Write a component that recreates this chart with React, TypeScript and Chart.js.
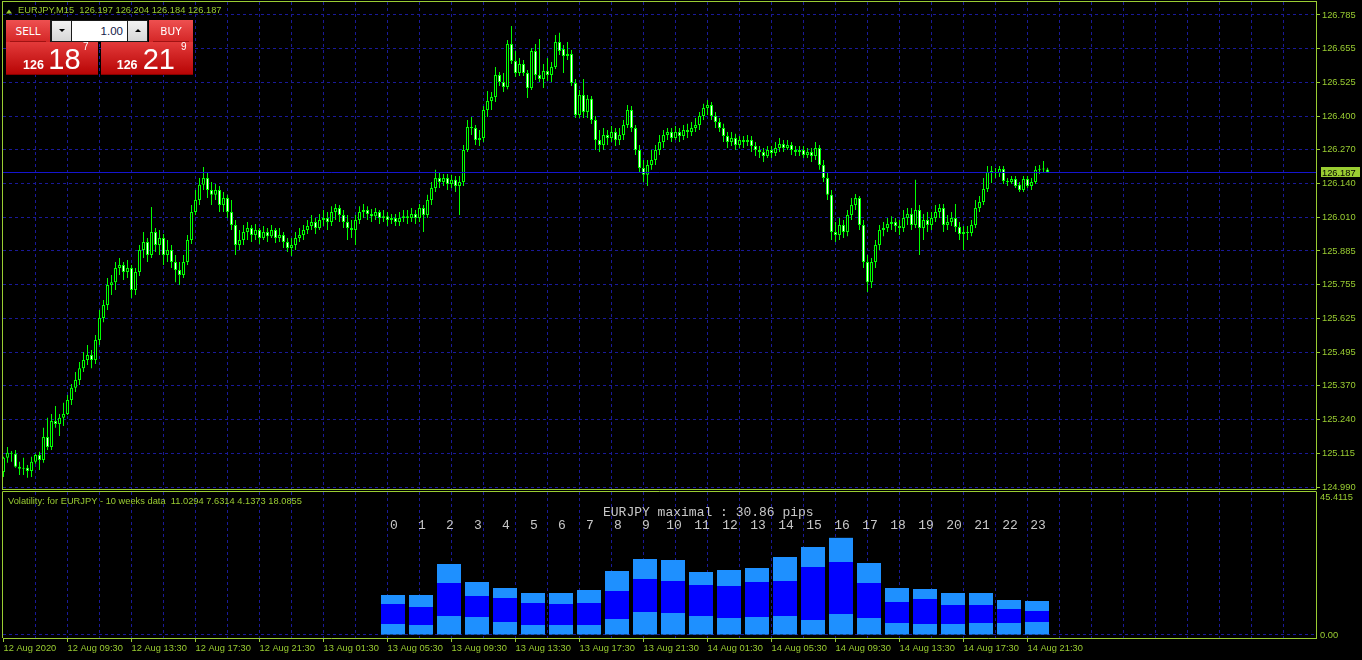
import React, { useEffect, useRef } from 'react';
import { Chart, registerables } from 'chart.js';

Chart.register(...registerables);

// ---------------- data ----------------
const symbol = 'EURJPY';
const timeframe = 'M15';

const opens = [
  125.047, 125.101, 125.120, 125.116, 125.067, 125.059, 125.063, 125.051, 125.086, 125.112,
  125.093, 125.180, 125.142, 125.241, 125.230, 125.253, 125.268, 125.321, 125.367, 125.397,
  125.442, 125.473, 125.492, 125.473, 125.549, 125.633, 125.682, 125.758, 125.769, 125.823,
  125.834, 125.808, 125.823, 125.739, 125.808, 125.891, 125.922, 125.872, 125.960, 125.910,
  125.937, 125.872, 125.891, 125.846, 125.815, 125.796, 125.846, 125.929, 126.036, 126.081,
  126.139, 126.165, 126.119, 126.101, 126.119, 126.062, 126.089, 126.036, 125.986, 125.910,
  125.929, 125.960, 125.975, 125.948, 125.967, 125.937, 125.960, 125.944, 125.967, 125.937,
  125.948, 125.922, 125.899, 125.910, 125.937, 125.948, 125.967, 125.983, 125.998, 125.975,
  126.005, 126.013, 125.998, 126.036, 126.051, 126.024, 125.998, 125.975, 125.967, 126.005,
  126.036, 126.043, 126.028, 126.020, 126.036, 126.013, 126.020, 126.005, 126.013, 125.998,
  126.013, 126.020, 126.013, 126.028, 126.013, 126.051, 126.024, 126.081, 126.127, 126.165,
  126.150, 126.165, 126.142, 126.158, 126.135, 126.150, 126.272, 126.359, 126.355, 126.310,
  126.317, 126.424, 126.458, 126.473, 126.557, 126.530, 126.511, 126.675, 126.610, 126.564,
  126.599, 126.564, 126.507, 126.648, 126.557, 126.542, 126.572, 126.557, 126.587, 126.682,
  126.656, 126.629, 126.637, 126.526, 126.405, 126.481, 126.416, 126.466, 126.386, 126.310,
  126.291, 126.329, 126.317, 126.340, 126.310, 126.329, 126.367, 126.424, 126.355, 126.272,
  126.203, 126.177, 126.215, 126.234, 126.272, 126.302, 126.329, 126.340, 126.317, 126.340,
  126.325, 126.348, 126.340, 126.355, 126.367, 126.401, 126.431, 126.443, 126.401, 126.378,
  126.355, 126.325, 126.302, 126.317, 126.291, 126.310, 126.302, 126.310, 126.287, 126.272,
  126.264, 126.249, 126.272, 126.260, 126.279, 126.294, 126.279, 126.291, 126.272, 126.264,
  126.272, 126.253, 126.264, 126.249, 126.279, 126.215, 126.165, 126.101, 125.960, 125.948,
  125.986, 125.960, 126.024, 126.062, 126.089, 125.986, 125.846, 125.769, 125.846, 125.910,
  125.967, 125.975, 125.990, 125.998, 125.983, 125.975, 126.013, 126.028, 125.986, 126.043,
  125.975, 126.005, 125.986, 126.013, 126.036, 126.051, 125.986, 125.998, 126.013, 125.979,
  125.952, 125.960, 125.956, 125.986, 126.051, 126.074, 126.123, 126.188, 126.188, 126.184,
  126.199, 126.154, 126.150, 126.161, 126.139, 126.119, 126.161, 126.135, 126.150, 126.196,
  126.199, 126.197,
];

const highs = [
  125.105, 125.142, 125.127, 125.131, 125.086, 125.101, 125.074, 125.105, 125.116, 125.124,
  125.215, 125.253, 125.268, 125.298, 125.268, 125.310, 125.340, 125.382, 125.427, 125.465,
  125.503, 125.530, 125.511, 125.568, 125.663, 125.701, 125.785, 125.796, 125.846, 125.861,
  125.846, 125.853, 125.834, 125.823, 125.910, 125.960, 125.937, 126.055, 125.975, 125.967,
  125.952, 125.929, 125.910, 125.872, 125.846, 125.872, 125.948, 126.062, 126.119, 126.165,
  126.207, 126.188, 126.150, 126.142, 126.135, 126.112, 126.101, 126.081, 126.005, 125.967,
  125.986, 125.998, 125.986, 125.990, 125.975, 125.983, 125.975, 125.986, 125.975, 125.975,
  125.960, 125.937, 125.937, 125.960, 125.975, 125.986, 126.005, 126.024, 126.013, 126.028,
  126.043, 126.036, 126.058, 126.066, 126.062, 126.043, 126.024, 126.005, 126.024, 126.058,
  126.066, 126.058, 126.047, 126.051, 126.043, 126.043, 126.036, 126.028, 126.028, 126.036,
  126.043, 126.043, 126.051, 126.043, 126.066, 126.062, 126.101, 126.150, 126.196, 126.188,
  126.180, 126.180, 126.177, 126.173, 126.173, 126.291, 126.386, 126.397, 126.367, 126.348,
  126.439, 126.496, 126.492, 126.587, 126.568, 126.564, 126.690, 126.743, 126.648, 126.621,
  126.614, 126.576, 126.659, 126.675, 126.694, 126.599, 126.621, 126.606, 126.709, 126.717,
  126.671, 126.682, 126.652, 126.542, 126.500, 126.542, 126.481, 126.477, 126.401, 126.348,
  126.355, 126.348, 126.363, 126.355, 126.355, 126.386, 126.443, 126.439, 126.367, 126.291,
  126.234, 126.234, 126.272, 126.291, 126.329, 126.348, 126.355, 126.355, 126.363, 126.355,
  126.367, 126.371, 126.378, 126.393, 126.416, 126.447, 126.462, 126.454, 126.416, 126.393,
  126.371, 126.340, 126.340, 126.333, 126.325, 126.325, 126.329, 126.325, 126.302, 126.287,
  126.279, 126.287, 126.287, 126.302, 126.317, 126.310, 126.310, 126.302, 126.287, 126.287,
  126.287, 126.279, 126.279, 126.302, 126.291, 126.234, 126.188, 126.119, 125.998, 126.013,
  126.005, 126.043, 126.089, 126.104, 126.097, 126.005, 125.872, 125.861, 125.929, 125.986,
  125.998, 126.013, 126.020, 126.013, 126.005, 126.043, 126.051, 126.051, 126.158, 126.062,
  126.028, 126.036, 126.036, 126.062, 126.066, 126.066, 126.024, 126.036, 126.066, 125.998,
  125.983, 125.983, 126.005, 126.081, 126.097, 126.165, 126.211, 126.211, 126.203, 126.211,
  126.211, 126.165, 126.173, 126.173, 126.150, 126.173, 126.173, 126.165, 126.211, 126.215,
  126.230, 126.204,
];

const lows = [
  125.028, 125.082, 125.086, 125.063, 125.036, 125.036, 125.025, 125.028, 125.078, 125.055,
  125.082, 125.131, 125.131, 125.215, 125.184, 125.222, 125.264, 125.302, 125.351, 125.378,
  125.427, 125.454, 125.442, 125.458, 125.530, 125.617, 125.663, 125.720, 125.739, 125.796,
  125.777, 125.785, 125.709, 125.720, 125.792, 125.861, 125.846, 125.861, 125.884, 125.872,
  125.834, 125.846, 125.823, 125.769, 125.758, 125.785, 125.834, 125.914, 126.024, 126.062,
  126.119, 126.089, 126.062, 126.081, 126.036, 126.036, 126.013, 125.967, 125.872, 125.891,
  125.910, 125.929, 125.922, 125.929, 125.914, 125.929, 125.922, 125.937, 125.918, 125.922,
  125.899, 125.884, 125.868, 125.891, 125.922, 125.929, 125.952, 125.967, 125.952, 125.967,
  125.983, 125.967, 125.983, 126.005, 125.998, 125.975, 125.929, 125.937, 125.910, 125.990,
  126.013, 126.005, 125.998, 126.005, 125.990, 125.998, 125.983, 125.990, 125.983, 125.983,
  125.998, 125.990, 125.998, 125.990, 125.998, 125.960, 126.013, 126.062, 126.112, 126.127,
  126.135, 126.119, 126.127, 126.112, 126.024, 126.135, 126.264, 126.329, 126.291, 126.287,
  126.302, 126.397, 126.424, 126.454, 126.515, 126.492, 126.503, 126.599, 126.549, 126.553,
  126.553, 126.469, 126.500, 126.538, 126.530, 126.507, 126.534, 126.530, 126.580, 126.633,
  126.564, 126.614, 126.515, 126.393, 126.393, 126.393, 126.393, 126.370, 126.272, 126.264,
  126.272, 126.291, 126.302, 126.287, 126.291, 126.310, 126.355, 126.340, 126.253, 126.188,
  126.150, 126.135, 126.196, 126.215, 126.253, 126.279, 126.310, 126.302, 126.310, 126.302,
  126.310, 126.317, 126.325, 126.340, 126.348, 126.386, 126.405, 126.386, 126.355, 126.340,
  126.302, 126.279, 126.287, 126.272, 126.279, 126.279, 126.287, 126.264, 126.249, 126.241,
  126.226, 126.241, 126.241, 126.249, 126.264, 126.264, 126.272, 126.253, 126.249, 126.249,
  126.241, 126.241, 126.226, 126.234, 126.196, 126.150, 126.081, 125.929, 125.922, 125.929,
  125.937, 125.944, 126.005, 126.043, 125.967, 125.823, 125.732, 125.747, 125.823, 125.891,
  125.944, 125.960, 125.967, 125.960, 125.948, 125.960, 125.986, 125.967, 125.975, 125.872,
  125.929, 125.960, 125.967, 125.998, 126.013, 125.960, 125.967, 125.983, 125.960, 125.929,
  125.891, 125.929, 125.944, 125.975, 126.036, 126.062, 126.112, 126.146, 126.165, 126.169,
  126.142, 126.135, 126.142, 126.127, 126.112, 126.112, 126.127, 126.119, 126.142, 126.180,
  126.188, 126.184,
];

const closes = [
  125.101, 125.120, 125.116, 125.067, 125.059, 125.063, 125.051, 125.086, 125.112, 125.093,
  125.180, 125.142, 125.241, 125.230, 125.253, 125.268, 125.321, 125.367, 125.397, 125.442,
  125.473, 125.492, 125.473, 125.549, 125.633, 125.682, 125.758, 125.769, 125.823, 125.834,
  125.808, 125.823, 125.739, 125.808, 125.891, 125.922, 125.872, 125.960, 125.910, 125.937,
  125.872, 125.891, 125.846, 125.815, 125.796, 125.846, 125.929, 126.036, 126.081, 126.139,
  126.165, 126.119, 126.101, 126.119, 126.062, 126.089, 126.036, 125.986, 125.910, 125.929,
  125.960, 125.975, 125.948, 125.967, 125.937, 125.960, 125.944, 125.967, 125.937, 125.948,
  125.922, 125.899, 125.910, 125.937, 125.948, 125.967, 125.983, 125.998, 125.975, 126.005,
  126.013, 125.998, 126.036, 126.051, 126.024, 125.998, 125.975, 125.967, 126.005, 126.036,
  126.043, 126.028, 126.020, 126.036, 126.013, 126.020, 126.005, 126.013, 125.998, 126.013,
  126.020, 126.013, 126.028, 126.013, 126.051, 126.024, 126.081, 126.127, 126.165, 126.150,
  126.165, 126.142, 126.158, 126.135, 126.150, 126.272, 126.359, 126.355, 126.310, 126.317,
  126.424, 126.458, 126.473, 126.557, 126.530, 126.511, 126.675, 126.610, 126.564, 126.599,
  126.564, 126.507, 126.648, 126.557, 126.542, 126.572, 126.557, 126.587, 126.682, 126.648,
  126.629, 126.637, 126.526, 126.405, 126.481, 126.416, 126.466, 126.386, 126.310, 126.291,
  126.329, 126.317, 126.340, 126.310, 126.329, 126.367, 126.424, 126.355, 126.272, 126.203,
  126.177, 126.215, 126.234, 126.272, 126.302, 126.329, 126.340, 126.317, 126.340, 126.325,
  126.348, 126.340, 126.355, 126.367, 126.401, 126.431, 126.443, 126.401, 126.378, 126.355,
  126.325, 126.302, 126.317, 126.291, 126.310, 126.302, 126.310, 126.287, 126.272, 126.264,
  126.249, 126.272, 126.260, 126.279, 126.294, 126.279, 126.291, 126.272, 126.264, 126.272,
  126.253, 126.264, 126.249, 126.279, 126.215, 126.165, 126.101, 125.960, 125.948, 125.986,
  125.960, 126.024, 126.062, 126.089, 125.986, 125.846, 125.769, 125.846, 125.910, 125.967,
  125.975, 125.990, 125.998, 125.983, 125.975, 126.013, 126.028, 125.986, 126.043, 125.975,
  126.005, 125.986, 126.013, 126.036, 126.051, 125.986, 125.998, 126.013, 125.979, 125.952,
  125.960, 125.956, 125.986, 126.051, 126.074, 126.123, 126.188, 126.188, 126.184, 126.199,
  126.154, 126.150, 126.161, 126.135, 126.119, 126.161, 126.135, 126.150, 126.196, 126.199,
  126.197, 126.187,
];

const bidPrice = 126.187;
const askPrice = 126.219;
const lotSize = '1.00';

// one label every 16 bars (4 hours of M15)
const timeLabels = [
  '12 Aug 2020', '12 Aug 09:30', '12 Aug 13:30', '12 Aug 17:30', '12 Aug 21:30',
  '13 Aug 01:30', '13 Aug 05:30', '13 Aug 09:30', '13 Aug 13:30', '13 Aug 17:30',
  '13 Aug 21:30', '14 Aug 01:30', '14 Aug 05:30', '14 Aug 09:30', '14 Aug 13:30',
  '14 Aug 17:30', '14 Aug 21:30',
];

const priceTickLabels = [
  '124.990', '125.115', '125.240', '125.370', '125.495', '125.625', '125.755', '125.885',
  '126.010', '126.140', '126.270', '126.400', '126.525', '126.655', '126.785',
];

const hourLabels = ['0', '1', '2', '3', '4', '5', '6', '7', '8', '9', '10', '11',
  '12', '13', '14', '15', '16', '17', '18', '19', '20', '21', '22', '23'];
const hourLow = [3.49, 3.18, 6.03, 5.72, 4.13, 3.18, 3.18, 3.18, 5.08, 7.30, 6.99, 6.03,
  5.40, 5.72, 6.03, 4.76, 6.67, 5.40, 3.81, 3.49, 3.49, 3.81, 3.81, 4.13];
const hourMid = [9.84, 8.89, 16.51, 12.38, 11.75, 10.16, 9.84, 10.16, 13.97, 17.78, 17.15, 15.88,
  15.56, 16.83, 17.15, 21.59, 23.18, 16.51, 10.48, 11.43, 9.53, 9.53, 8.26, 7.62];
const hourHigh = [12.70, 12.70, 22.55, 16.83, 14.93, 13.34, 13.34, 14.29, 20.32, 24.13, 23.82, 20.01,
  20.64, 21.28, 24.77, 27.95, 30.86, 22.86, 14.93, 14.61, 13.34, 13.34, 11.11, 10.80];

const volHeader = 'Volatility: for EURJPY - 10 weeks data';
const volValues = ['11.0294', '7.6314', '4.1373', '18.0855'];
const subMaxLabel = '45.4115';
const subMinLabel = '0.00';

// ---------------- style / scale config ----------------
const LIME = '#00ff00';
const AXIS = '#9acd32';
const GRID = '#1a1a99';
const BIDLINE = '#1515d0';
const BULL_FILL = '#000000';
const BEAR_FILL = '#ffffff';
const LIGHT_BLUE = '#1e90ff';
const DEEP_BLUE = '#0000ff';
const FONT = "'Liberation Sans', 'DejaVu Sans', sans-serif";
const FS = 9.3;
const MONO = "'Liberation Mono', 'DejaVu Sans Mono', monospace";

const X_MIN = -0.125;
const X_MAX = 328.125;
const Y_MIN = 124.9824;
const Y_MAX = 126.8344;
const SUB_MIN = -0.9527;
const SUB_MAX = 45.4115;
const HX_MIN = -13.929;
const HX_MAX = 32.964;

const gridTicksMain: number[] = [];
for (let v = 8; v <= 320; v += 8) gridTicksMain.push(v);
const gridTicksSub: number[] = [];
for (let v = 0; v <= 320; v += 8) gridTicksSub.push(v);

const pLo = parseFloat(priceTickLabels[0]);
const pHi = parseFloat(priceTickLabels[priceTickLabels.length - 1]);
const priceTickValues = priceTickLabels.map((_, k) => pLo + (k * (pHi - pLo)) / (priceTickLabels.length - 1));

const TRANSPARENT = 'rgba(0,0,0,0)';

function isLabelTick(v: number) {
  const k = v / 16;
  return Number.isInteger(k) && k >= 0 && k < timeLabels.length;
}

// ---------------- plugins ----------------
const mainDecor = {
  id: 'mainDecor',
  beforeDraw(chart: any) {
    const { ctx, width, height } = chart;
    ctx.save();
    ctx.fillStyle = '#000';
    ctx.fillRect(0, 0, width, height);
    ctx.restore();
  },
  afterDatasetsDraw(chart: any) {
    const { ctx, chartArea: a, scales } = chart;
    const py = Math.floor(scales.y.getPixelForValue(bidPrice)) + 0.5;
    ctx.save();
    ctx.strokeStyle = BIDLINE;
    ctx.lineWidth = 1;
    ctx.beginPath();
    ctx.moveTo(a.left, py);
    ctx.lineTo(a.right, py);
    ctx.stroke();
    ctx.restore();
  },
  afterDraw(chart: any) {
    const { ctx, chartArea: a, scales } = chart;
    ctx.save();
    ctx.strokeStyle = AXIS;
    ctx.lineWidth = 1;
    ctx.strokeRect(a.left - 0.5, a.top - 0.5, a.right - a.left + 1, a.bottom - a.top + 1);

    // bid price label on the axis
    const py = Math.floor(scales.y.getPixelForValue(bidPrice)) + 0.5;
    ctx.fillStyle = AXIS;
    ctx.fillRect(a.right + 5, py - 5.5, 39, 10);
    ctx.fillStyle = '#000';
    ctx.font = `${FS}px ${FONT}`;
    ctx.textBaseline = 'middle';
    ctx.textAlign = 'left';
    ctx.fillText(bidPrice.toFixed(3), a.right + 6, py + 0.5);

    // title
    const last = closes.length - 1;
    const title = `${symbol},${timeframe}  ${opens[last].toFixed(3)} ${highs[last].toFixed(3)} ${lows[last].toFixed(3)} ${closes[last].toFixed(3)}`;
    ctx.fillStyle = AXIS;
    ctx.beginPath();
    ctx.moveTo(6, 13.5);
    ctx.lineTo(12, 13.5);
    ctx.lineTo(9, 9.5);
    ctx.closePath();
    ctx.fill();
    ctx.fillText(title, 18, 10.5);
    ctx.restore();
  },
};

const subDecor = {
  id: 'subDecor',
  afterDraw(chart: any) {
    const { ctx, chartArea: a, scales } = chart;
    ctx.save();
    ctx.strokeStyle = AXIS;
    ctx.lineWidth = 1;
    ctx.beginPath();
    ctx.moveTo(a.left - 0.5, a.bottom);
    ctx.lineTo(a.left - 0.5, a.top - 0.5);
    ctx.lineTo(a.right + 0.5, a.top - 0.5);
    ctx.stroke();

    ctx.fillStyle = AXIS;
    ctx.font = `${FS}px ${FONT}`;
    ctx.textBaseline = 'middle';
    ctx.textAlign = 'left';
    ctx.fillText(`${volHeader}  ${volValues.join(' ')}`, 8, 11);
    ctx.fillText(subMaxLabel, a.right + 4, 7.5);
    ctx.fillText(subMinLabel, a.right + 4, scales.y.getPixelForValue(0) + 0.5);

    const xh = scales.xh;
    const maxVal = Math.max(...hourHigh);
    ctx.fillStyle = '#c8c8c8';
    ctx.font = `13px ${MONO}`;
    ctx.fillText(`${symbol} maximal : ${maxVal.toFixed(2)} pips`, xh.getPixelForValue(7.5), 22.5);
    ctx.textAlign = 'center';
    hourLabels.forEach((h, k) => {
      ctx.fillText(h, xh.getPixelForValue(k) + 1, 35.5);
    });
    ctx.restore();
  },
};

// ---------------- charts ----------------
function buildMain(canvas: HTMLCanvasElement) {
  const bodies = closes.map((c, i) => ({ x: i, y: [Math.min(opens[i], c), Math.max(opens[i], c)] }));
  const wicks = closes.map((c, i) => ({
    x: i,
    y: [Math.min(lows[i], opens[i], c), Math.max(highs[i], opens[i], c)],
  }));
  const fills = closes.map((c, i) => (c > opens[i] ? BULL_FILL : c < opens[i] ? BEAR_FILL : LIME));

  return new Chart(canvas, {
    type: 'bar',
    data: {
      datasets: [
        {
          data: bodies as any,
          backgroundColor: fills,
          borderColor: LIME,
          borderWidth: 1,
          borderSkipped: false,
          barThickness: 3,
          grouped: false,
          minBarLength: 1,
          inflateAmount: 0,
          order: 0,
        } as any,
        {
          data: wicks as any,
          backgroundColor: LIME,
          borderWidth: 0,
          barThickness: 1,
          grouped: false,
          inflateAmount: 0,
          order: 1,
        } as any,
      ],
    },
    options: {
      responsive: false,
      animation: false,
      events: [],
      layout: { padding: { left: 3, top: 2, right: 0, bottom: 11 } },
      plugins: { legend: { display: false }, tooltip: { enabled: false }, title: { display: false } },
      scales: {
        x: {
          type: 'linear',
          min: X_MIN,
          max: X_MAX,
          offset: false,
          afterBuildTicks: (s: any) => {
            s.ticks = gridTicksMain.map((v) => ({ value: v }));
          },
          afterFit: (s: any) => {
            s.height = 0;
            s.paddingLeft = 0;
            s.paddingRight = 0;
          },
          ticks: { display: false },
          grid: { color: GRID, lineWidth: 1, drawTicks: false, offset: false },
          border: { display: false, dash: [3, 3] },
        },
        y: {
          type: 'linear',
          position: 'right',
          min: Y_MIN,
          max: Y_MAX,
          afterBuildTicks: (s: any) => {
            s.ticks = priceTickValues.map((v) => ({ value: v }));
          },
          afterFit: (s: any) => {
            s.width = 46;
            s.paddingTop = 0;
            s.paddingBottom = 0;
          },
          ticks: {
            autoSkip: false,
            color: AXIS,
            padding: 2,
            font: { family: FONT, size: FS },
            callback: (_v: any, i: number) => priceTickLabels[i],
          },
          grid: { color: GRID, lineWidth: 1, tickColor: AXIS, tickLength: 4, tickBorderDash: [] },
          border: { display: true, color: AXIS, width: 1, dash: [3, 3] },
        },
      },
    } as any,
    plugins: [mainDecor],
  });
}

function buildSub(canvas: HTMLCanvasElement) {
  const segLow = hourLow.map((v, k) => ({ x: k, y: [0, v] }));
  const segMid = hourMid.map((v, k) => ({ x: k, y: [hourLow[k], v] }));
  const segTop = hourHigh.map((v, k) => ({ x: k, y: [hourMid[k], v] }));
  const common = {
    xAxisID: 'xh',
    yAxisID: 'y',
    barThickness: 24,
    grouped: false,
    borderWidth: 0,
    inflateAmount: 0,
  };
  return new Chart(canvas, {
    type: 'bar',
    data: {
      datasets: [
        { ...common, data: segLow as any, backgroundColor: LIGHT_BLUE } as any,
        { ...common, data: segMid as any, backgroundColor: DEEP_BLUE } as any,
        { ...common, data: segTop as any, backgroundColor: LIGHT_BLUE } as any,
      ],
    },
    options: {
      responsive: false,
      animation: false,
      events: [],
      layout: { padding: { left: 3, top: 2, right: 0, bottom: 0 } },
      plugins: { legend: { display: false }, tooltip: { enabled: false }, title: { display: false } },
      scales: {
        x: {
          type: 'linear',
          position: 'bottom',
          min: X_MIN,
          max: X_MAX,
          offset: false,
          afterBuildTicks: (s: any) => {
            s.ticks = gridTicksSub.map((v) => ({ value: v }));
          },
          afterFit: (s: any) => {
            s.height = 22;
            s.paddingLeft = 0;
            s.paddingRight = 0;
          },
          ticks: {
            autoSkip: false,
            maxRotation: 0,
            minRotation: 0,
            align: 'start',
            padding: 1,
            color: AXIS,
            font: { family: FONT, size: FS },
            callback: (v: any) => (isLabelTick(Number(v)) ? timeLabels[Number(v) / 16] : ''),
          },
          grid: {
            offset: false,
            lineWidth: 1,
            tickLength: 4,
            tickBorderDash: [],
            color: (c: any) => (c.tick && c.tick.value === 0 ? TRANSPARENT : GRID),
            tickColor: (c: any) => (c.tick && isLabelTick(c.tick.value) ? AXIS : TRANSPARENT),
          },
          border: { display: true, color: AXIS, width: 1, dash: [3, 3] },
        },
        xh: {
          type: 'linear',
          min: HX_MIN,
          max: HX_MAX,
          offset: false,
          display: false,
          grid: { offset: false },
        },
        y: {
          type: 'linear',
          position: 'right',
          min: SUB_MIN,
          max: SUB_MAX,
          afterBuildTicks: (s: any) => {
            s.ticks = [{ value: 0 }];
          },
          afterFit: (s: any) => {
            s.width = 46;
            s.paddingTop = 0;
            s.paddingBottom = 0;
          },
          ticks: { display: false },
          grid: { color: GRID, lineWidth: 1, drawTicks: false },
          border: { display: true, color: AXIS, width: 1, dash: [3, 3] },
        },
      },
    } as any,
    plugins: [subDecor],
  });
}

// ---------------- trade panel (HTML) ----------------
function splitPrice(p: number) {
  const s = p.toFixed(3);
  return { head: s.slice(0, 3), big: s.slice(4, 6), tail: s.slice(6) };
}

function PriceBox(props: { left: number; price: number; hx: number; bx: number; tx: number }) {
  const { head, big, tail } = splitPrice(props.price);
  return (
    <div
      style={{
        position: 'absolute',
        left: props.left,
        top: 42,
        width: 92,
        height: 33,
        background: 'linear-gradient(#e33a3a, #b80505)',
        boxSizing: 'border-box',
        borderBottom: '1px solid #8a0000',
      }}
    >
      <span style={{ position: 'absolute', left: props.hx, top: 17.4, font: "bold 12.5px 'Liberation Sans'", lineHeight: '12.5px', color: '#fff', whiteSpace: 'nowrap' }}>{head}</span>
      <span style={{ position: 'absolute', left: props.bx, top: 2.5, font: "29px 'Liberation Sans'", lineHeight: '29px', color: '#fff', whiteSpace: 'nowrap' }}>{big}</span>
      <span style={{ position: 'absolute', left: props.tx, top: -0.3, font: "10px 'Liberation Sans'", lineHeight: '10px', color: '#fff', whiteSpace: 'nowrap' }}>{tail}</span>
    </div>
  );
}

function Header(props: { left: number; text: string }) {
  return (
    <div
      style={{
        position: 'absolute',
        left: props.left,
        top: 20,
        width: 44,
        height: 22,
        background: 'linear-gradient(#ee5050, #d42626)',
      }}
    >
      <span style={{ position: 'absolute', left: 0, width: 44, top: 5, textAlign: 'center', font: "10.5px 'DejaVu Sans'", lineHeight: '12px', color: '#fff' }}>{props.text}</span>
      <div style={{ position: 'absolute', left: 4, top: 21, width: 36, height: 1, background: '#a01212' }} />
    </div>
  );
}

function Arrow(props: { left: number; up: boolean }) {
  return (
    <div style={{ position: 'absolute', left: props.left, top: 1, width: 19, height: 20, background: 'linear-gradient(#f2f2f2, #d6d6d6)' }}>
      <div
        style={{
          position: 'absolute',
          left: 7,
          top: 8,
          width: 0,
          height: 0,
          borderLeft: '3px solid transparent',
          borderRight: '3px solid transparent',
          borderTop: props.up ? 'none' : '3px solid #000',
          borderBottom: props.up ? '3px solid #000' : 'none',
        }}
      />
    </div>
  );
}

function TradePanel() {
  return (
    <div style={{ position: 'absolute', left: 0, top: 0, width: 200, height: 80, zIndex: 5 }}>
      <Header left={6} text="SELL" />
      <div style={{ position: 'absolute', left: 50, top: 20, width: 98, height: 22, background: '#1a1a1a' }}>
        <Arrow left={2} up={false} />
        <div style={{ position: 'absolute', left: 22, top: 1, width: 55, height: 20, background: '#fff' }}>
          <span style={{ position: 'absolute', right: 4, top: 4, font: "11.5px 'Liberation Sans'", lineHeight: '12px', color: '#14204a' }}>{lotSize}</span>
        </div>
        <Arrow left={78} up={true} />
      </div>
      <Header left={149} text="BUY" />
      <PriceBox left={6} price={bidPrice} hx={17} bx={42.3} tx={77} />
      <PriceBox left={101} price={askPrice} hx={15.7} bx={41.7} tx={80} />
    </div>
  );
}

// ---------------- app ----------------
export default function App() {
  const mainRef = useRef<HTMLCanvasElement>(null);
  const subRef = useRef<HTMLCanvasElement>(null);

  useEffect(() => {
    document.body.style.margin = '0';
    document.body.style.background = '#000';
    const main = buildMain(mainRef.current as HTMLCanvasElement);
    const sub = buildSub(subRef.current as HTMLCanvasElement);
    return () => {
      main.destroy();
      sub.destroy();
    };
  }, []);

  return (
    <div style={{ position: 'fixed', left: 0, top: 0, width: 1362, height: 660, background: '#000', overflow: 'hidden' }}>
      <canvas ref={mainRef} width={1362} height={500} style={{ position: 'absolute', left: 0, top: 0, width: 1362, height: 500, display: 'block' }} />
      <canvas ref={subRef} width={1362} height={170} style={{ position: 'absolute', left: 0, top: 490, width: 1362, height: 170, display: 'block' }} />
      <TradePanel />
    </div>
  );
}
